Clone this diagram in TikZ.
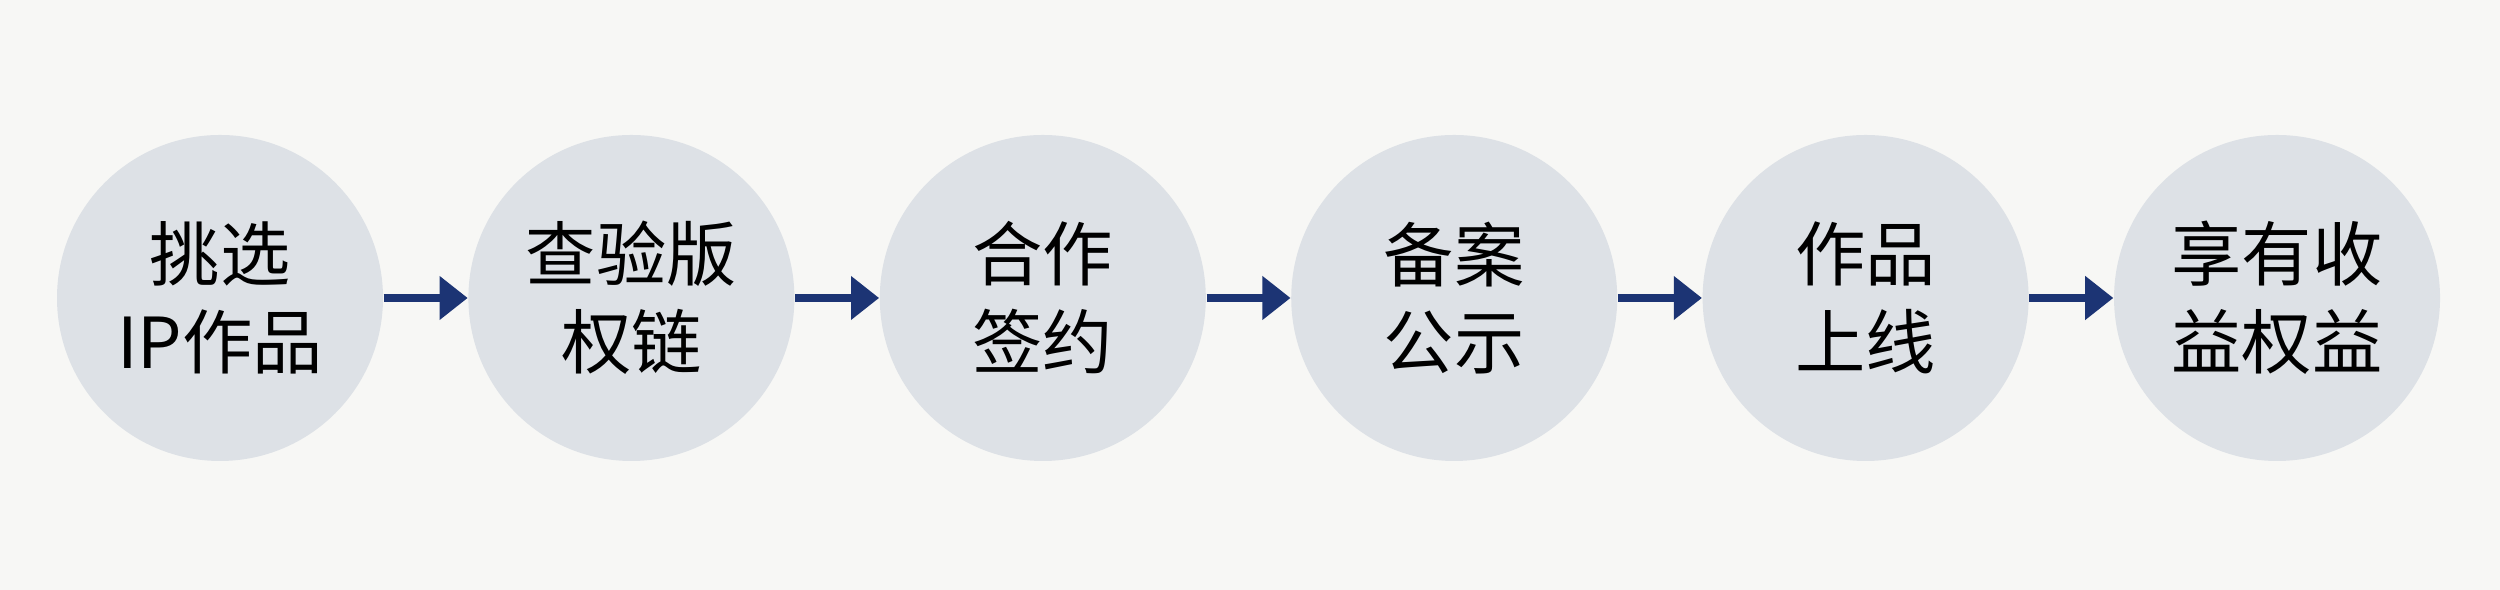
\documentclass[tikz,border=0pt]{standalone}
\usepackage{fontspec}
\setmainfont{Noto Sans CJK SC}
\usetikzlibrary{positioning,arrows.meta}
\definecolor{stepfill}{HTML}{DDE1E6}
\definecolor{arrowblue}{HTML}{1C3474}
\definecolor{paper}{HTML}{F7F7F5}
\begin{document}
\begin{tikzpicture}[
    stepcircle/.style={circle, fill=stepfill, minimum size=3.26cm, inner sep=0pt,
        align=center, font=\fontsize{20}{25}\selectfont},
    arrowstyle/.style={draw=arrowblue, line width=2.4pt, -{Triangle[length=8pt,width=12pt]}},
    node distance=0.84cm
]
\fill[paper] (0,0) rectangle (25,5.9);
\useasboundingbox (0,0) rectangle (25,5.9);
\node (Step01) [stepcircle] at (2.2,2.92) {挑选\\IP作品};
\node (Step02) [stepcircle, right=of Step01] {查验版\\权链};
\node (Step03) [stepcircle, right=of Step02] {合作\\签约};
\node (Step04) [stepcircle, right=of Step03] {备案\\公示};
\node (Step05) [stepcircle, right=of Step04] {作品\\上线};
\node (Step06) [stepcircle, right=of Step05] {享有收\\益权益};
\foreach \a/\b in {01/02, 02/03, 03/04, 04/05, 05/06}
  \draw[arrowstyle] (Step\a) -- (Step\b);
\end{tikzpicture}
\end{document}
